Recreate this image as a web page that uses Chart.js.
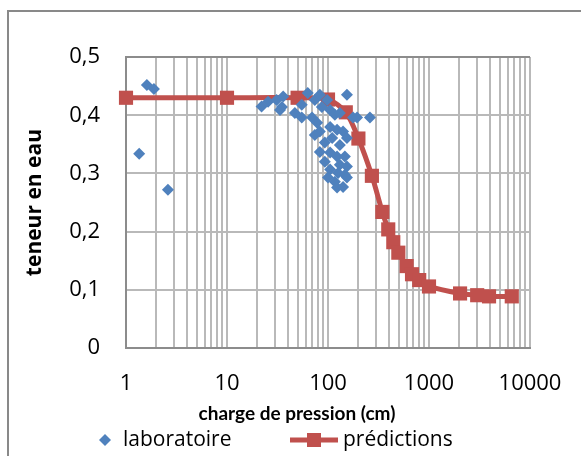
<!DOCTYPE html>
<html lang="fr">
<head>
<meta charset="UTF-8">
<title>Teneur en eau - charge de pression</title>
<script src="https://cdn.jsdelivr.net/npm/chart.js"></script>
<style>
    html, body {
        margin: 0;
        padding: 0;
        overflow: hidden;
        background: #fff;
    }
    #frame {
        position: absolute;
        left: 7px;
        top: 10px;
        width: 640px;
        height: 520px;
        border: 2px solid #898989;
    }
    #chart {
        position: absolute;
        left: 0;
        top: 0;
    }
</style>
</head>
<body>

<div id="frame"></div>
<canvas id="chart" width="604" height="456"></canvas>

<script>
    // laboratory measurements
    const labX = [1.35, 1.61, 1.89, 2.6, 22, 25.5, 31, 35, 36, 33.5, 47, 55, 55, 63,
        69.5, 74, 83, 87, 98, 154, 105, 117, 131, 177, 194, 260, 78, 83, 74, 105,
        123, 141, 154, 93, 110, 131, 83, 105, 123, 147, 93, 131, 154, 105, 126, 147,
        100, 117, 154, 123, 141];
    const labY = [0.334, 0.452, 0.445, 0.272, 0.415, 0.423, 0.426, 0.414, 0.432, 0.409,
        0.404, 0.418, 0.396, 0.438, 0.396, 0.426, 0.435, 0.414, 0.426, 0.435, 0.409,
        0.401, 0.404, 0.396, 0.396, 0.396, 0.387, 0.372, 0.366, 0.380, 0.375, 0.372,
        0.361, 0.353, 0.361, 0.349, 0.337, 0.336, 0.329, 0.329, 0.320, 0.315, 0.312,
        0.307, 0.301, 0.298, 0.293, 0.286, 0.293, 0.276, 0.277];

    // model curve
    const predX = [1, 10, 50, 100, 150, 200, 272, 345, 395, 443, 497, 601, 679, 800,
        1000, 2030, 3000, 3930, 6600];
    const predY = [0.43, 0.43, 0.43, 0.427, 0.405, 0.36, 0.296, 0.234, 0.204, 0.182,
        0.164, 0.141, 0.127, 0.117, 0.106, 0.094, 0.091, 0.089, 0.089];

    const xTickLabels = [1, 10, 100, 1000, 10000];
    const yTicks = [0, 0.1, 0.2, 0.3, 0.4, 0.5];

    const blue = '#4F81BD';
    const red = '#C0504D';
    const family = '"Open Sans", sans-serif';
    const gridColor = '#b9b9b9';
    const edgeColor = '#8c8c8c';

    // legend drawn under the axis title: diamond for the points, line + square for the curve
    const legendBar = {
        id: 'legendBar',
        afterDraw(chart) {
            const ctx = chart.ctx;
            const y = 440;
            ctx.save();
            ctx.font = '21px ' + family;
            ctx.textBaseline = 'middle';

            ctx.fillStyle = blue;
            ctx.beginPath();
            ctx.moveTo(105, y - 6);
            ctx.lineTo(111, y);
            ctx.lineTo(105, y + 6);
            ctx.lineTo(99, y);
            ctx.closePath();
            ctx.fill();

            ctx.strokeStyle = red;
            ctx.lineWidth = 5;
            ctx.beginPath();
            ctx.moveTo(290, y);
            ctx.lineTo(338, y);
            ctx.stroke();
            ctx.fillStyle = red;
            ctx.fillRect(307, y - 7, 14, 14);

            ctx.fillStyle = '#000';
            ctx.fillText(chart.data.datasets[0].label, 123, y);
            ctx.fillText(chart.data.datasets[1].label, 343, y);
            ctx.restore();
        }
    };

    const ctx = document.getElementById('chart').getContext('2d');

    new Chart(ctx, {
        type: 'scatter',
        data: {
            datasets: [
                {
                    label: 'laboratoire',
                    data: labX.map((x, i) => ({ x: x, y: labY[i] })),
                    pointStyle: 'rectRot',
                    pointRadius: 6,
                    pointHoverRadius: 6,
                    pointBorderWidth: 0,
                    backgroundColor: blue,
                    borderColor: blue
                },
                {
                    label: 'prédictions',
                    data: predX.map((x, i) => ({ x: x, y: predY[i] })),
                    showLine: true,
                    borderColor: red,
                    backgroundColor: red,
                    borderWidth: 5,
                    tension: 0.3,
                    pointStyle: 'rect',
                    pointRadius: 10,
                    pointHoverRadius: 10,
                    pointBorderWidth: 0,
                    clip: false
                }
            ]
        },
        options: {
            responsive: false,
            animation: false,
            layout: {
                padding: { left: 64, right: 74, top: 57, bottom: 31 }
            },
            scales: {
                x: {
                    type: 'logarithmic',
                    min: 1,
                    max: 10000,
                    // keep only 1..9 × 10^n for the grid
                    afterBuildTicks: (scale) => {
                        scale.ticks = scale.ticks.filter(t => {
                            const m = t.value / Math.pow(10, Math.floor(Math.log10(t.value) + 1e-9));
                            return Math.abs(m - Math.round(m)) < 1e-6;
                        });
                    },
                    afterFit: (scale) => { scale.height = 52; },
                    ticks: {
                        autoSkip: false,
                        maxRotation: 0,
                        padding: 22,
                        color: '#000',
                        font: { family: family, size: 22 },
                        callback: (v) => xTickLabels.includes(v) ? String(v) : ''
                    },
                    grid: { color: gridColor, lineWidth: 2, drawTicks: false },
                    border: { color: edgeColor, width: 2 }
                },
                y: {
                    min: 0,
                    max: 0.5,
                    afterBuildTicks: (scale) => {
                        scale.ticks = yTicks.map(v => ({ value: v }));
                    },
                    afterFit: (scale) => { scale.width = 62; },
                    ticks: {
                        padding: 26,
                        color: '#000',
                        font: { family: family, size: 22 },
                        callback: (v) => v === 0 ? '0' : v.toFixed(1).replace('.', ',')
                    },
                    grid: {
                        color: (c) => c.tick && c.tick.value === 0.5 ? edgeColor : gridColor,
                        lineWidth: 2,
                        drawTicks: false
                    },
                    border: { color: edgeColor, width: 2 },
                    title: {
                        display: true,
                        text: 'teneur en eau',
                        color: '#000',
                        font: { family: family, size: 21, weight: 'bold' },
                        padding: { top: -42, bottom: 0 }
                    }
                }
            },
            plugins: {
                legend: { display: false },
                tooltip: { enabled: false },
                title: {
                    display: true,
                    position: 'bottom',
                    text: 'charge de pression (cm)',
                    color: '#000',
                    font: { family: 'Lato, sans-serif', size: 19, weight: 'bold' },
                    padding: { top: 2, bottom: 0 }
                }
            }
        },
        plugins: [legendBar]
    });
</script>

</body>
</html>
